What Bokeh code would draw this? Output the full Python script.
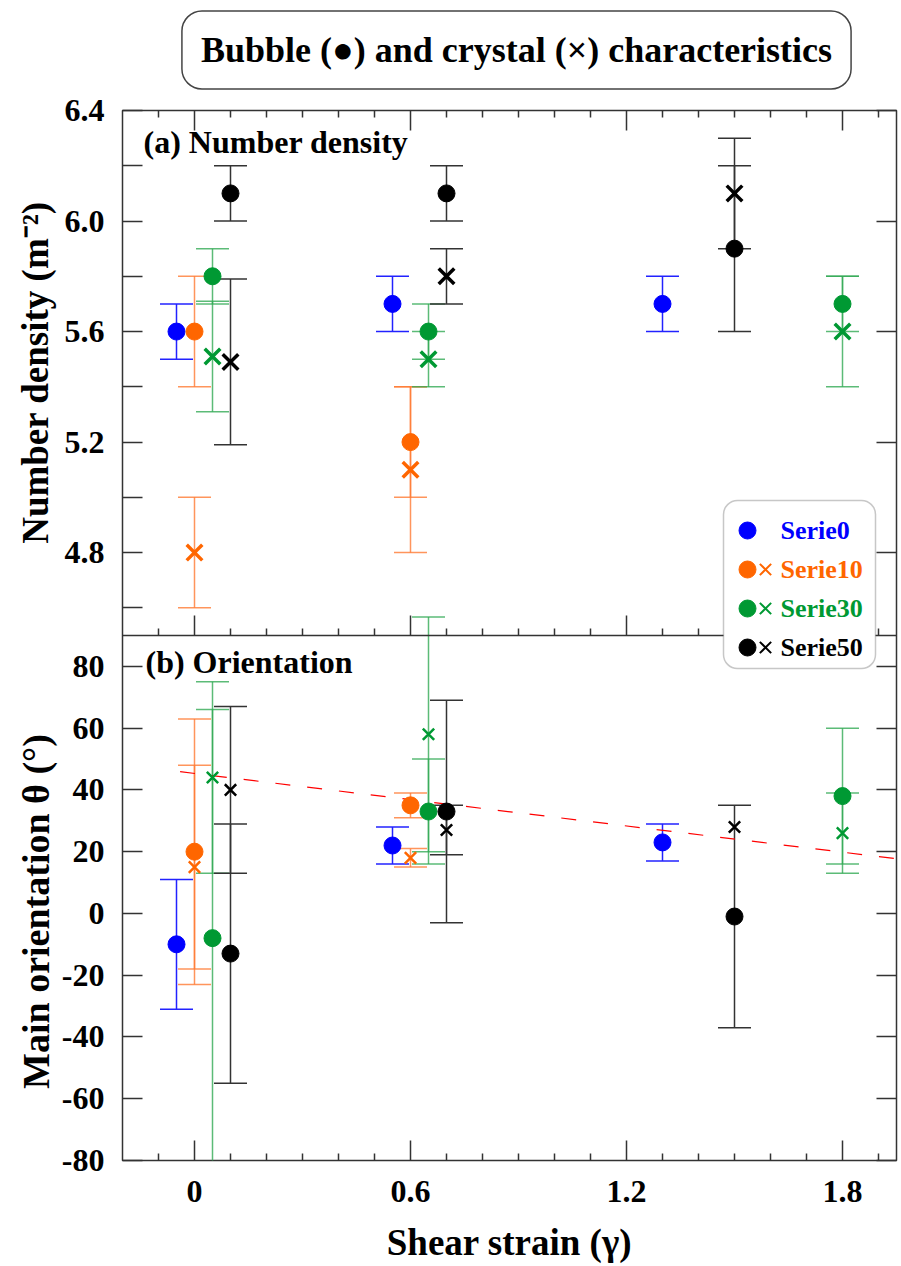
import numpy as np
from bokeh.plotting import figure
from bokeh.layouts import column, row
from bokeh.models import (Range1d, LinearAxis, FixedTicker, CustomJSTickFormatter,
                          Whisker, TeeHead, ColumnDataSource, Label, BoxAnnotation, Span)
from bokeh.embed import file_html
from bokeh.resources import INLINE

# ---------------- data ----------------
series_names = ["Serie0", "Serie10", "Serie30", "Serie50"]
series_colors = ["#0000ff", "#ff6600", "#009933", "#000000"]
errbar_colors = ["#2222ff", "#ff7a33", "#33aa55", "#333333"]

strain_s0 = [-0.05, 0.55, 1.30]
strain_s10 = [0.00, 0.60]
strain_s30 = [0.05, 0.65, 1.80]
strain_s50 = [0.10, 0.70, 1.50]

# (a) number density
dens_bubble_s0 = [5.6, 5.7, 5.7]
dens_bubble_s0_err = [0.1, 0.1, 0.1]
dens_bubble_s10 = [5.6, 5.2]
dens_bubble_s10_err = [0.2, 0.2]
dens_crystal_s10 = [4.8, 5.1]
dens_crystal_s10_err = [0.2, 0.3]
dens_bubble_s30 = [5.8, 5.6, 5.7]
dens_bubble_s30_err = [0.1, 0.1, 0.1]
dens_crystal_s30 = [5.51, 5.5, 5.6]
dens_crystal_s30_err = [0.2, 0.1, 0.2]
dens_bubble_s50 = [6.1, 6.1, 5.9]
dens_bubble_s50_err = [0.1, 0.1, 0.3]
dens_crystal_s50 = [5.49, 5.8, 6.1]
dens_crystal_s50_err = [0.3, 0.1, 0.2]

# (b) orientation
ori_bubble_s0 = [-10, 22, 23]
ori_bubble_s0_err = [21, 6, 6]
ori_bubble_s10 = [20, 35]
ori_bubble_s10_err = [43, 4]
ori_crystal_s10 = [15, 18]
ori_crystal_s10_err = [33, 3]
ori_bubble_s30 = [-8, 33, 38]
ori_bubble_s30_err = [74, 17, 22]
ori_crystal_s30 = [44, 58, 26]
ori_crystal_s30_err = [31, 38, 13]
ori_bubble_s50 = [-13, 33, -1]
ori_bubble_s50_err = [42, 36, 36]
ori_crystal_s50 = [40, 27, 28]
ori_crystal_s50_err = [27, 8, 0]

trend_x = [-0.04, 2.0]
trend_y = [45.9, 17.0]

x_major_ticks = [0, 0.6, 1.2, 1.8]
x_minor_ticks = [-0.1, 0.1, 0.2, 0.3, 0.4, 0.5, 0.7, 0.8, 0.9, 1.0, 1.1,
                 1.3, 1.4, 1.5, 1.6, 1.7, 1.9]
dens_ticks = [4.6, 4.8, 5.0, 5.2, 5.4, 5.6, 5.8, 6.0, 6.2, 6.4]
dens_tick_labels = ["", "4.8", "", "5.2", "", "5.6", "", "6.0", "", "6.4"]
ori_ticks = [-80, -60, -40, -20, 0, 20, 40, 60, 80]
ori_tick_labels = ["-80", "-60", "-40", "-20", "0", "20", "40", "60", "80"]

title_text = "Bubble (\u25cf) and crystal (\u00d7) characteristics"
ylabel_a = "Number density (m\u207b\u00b2)"
ylabel_b = "Main orientation \u03b8 (\u00b0)"
xlabel = "Shear strain (\u03b3)"

# ---------------- layout ----------------
FONT = "Liberation Serif"
TOTAL_W, TOTAL_H = 901, 1266
TITLE_H = 92
YLAB_W = 58
FW, FH = 774, 1050
BL, BT = 64, 18
BR = TOTAL_W - YLAB_W - BL - FW
MAIN_H = TOTAL_H - TITLE_H
BB = MAIN_H - BT - FH
FRAME_BOTTOM_PAGE = TITLE_H + BT + FH   # page y of the frame bottom (frames in a row are aligned)

y_bottom = Range1d(-80, 260)     # panel (b) occupies lower half (-80..90)
y_top = Range1d(2.6, 6.4)        # panel (a) occupies upper half (4.5..6.4)

p = figure(frame_width=FW, frame_height=FH,
           min_border_left=BL, min_border_right=BR,
           min_border_top=BT, min_border_bottom=BB,
           x_range=Range1d(-0.2, -0.2 + FW / 360.0), y_range=y_bottom,
           output_backend="svg", toolbar_location=None)
p.extra_y_ranges = {"top": y_top, "ly": Range1d(0, FH)}
p.extra_x_ranges = {"lx": Range1d(0, FW)}
p.xgrid.visible = False
p.ygrid.visible = False
p.outline_line_color = "#333333"
p.outline_line_width = 1.5
p.background_fill_color = "white"
p.border_fill_color = "white"


def to_bottom(t):
    return y_bottom.start + (t - y_top.start) * (y_bottom.end - y_bottom.start) / (y_top.end - y_top.start)


left_pos = list(ori_ticks) + [min(round(to_bottom(t), 6), y_bottom.end) for t in dens_ticks]
left_lab = list(ori_tick_labels) + list(dens_tick_labels)
right_pos = list(ori_ticks) + [round(to_bottom(t), 6) for t, l in zip(dens_ticks, dens_tick_labels) if l]

ytick_fmt = CustomJSTickFormatter(args=dict(pos=left_pos, labs=left_lab), code="""
for (let i = 0; i < pos.length; i++) { if (Math.abs(pos[i] - tick) < 1e-4) return labs[i]; }
return "";
""")
blank_fmt = CustomJSTickFormatter(code="return '';")
xtick_fmt = CustomJSTickFormatter(code="return tick == 0 ? '0' : tick.toFixed(1);")


def style_axis(ax, major_in=20, minor_in=7):
    ax.axis_line_color = None
    ax.major_tick_in = major_in
    ax.major_tick_out = 0
    ax.minor_tick_in = minor_in
    ax.minor_tick_out = 0
    ax.major_tick_line_color = "#333333"
    ax.major_tick_line_width = 1.5
    ax.minor_tick_line_color = "#333333"
    ax.minor_tick_line_width = 1.5
    ax.major_label_text_font = FONT
    ax.major_label_text_font_style = "bold"
    ax.major_label_text_font_size = "32px"
    ax.major_label_text_color = "black"


# left axis
yax = p.yaxis[0]
yax.ticker = FixedTicker(ticks=left_pos, minor_ticks=[])
yax.formatter = ytick_fmt
style_axis(yax)
yax.major_label_standoff = 18

# bottom axis
xax = p.xaxis[0]
xax.ticker = FixedTicker(ticks=x_major_ticks, minor_ticks=x_minor_ticks)
xax.formatter = xtick_fmt
style_axis(xax)
xax.major_label_standoff = 20
xax.axis_label = xlabel
xax.axis_label_text_font = FONT
xax.axis_label_text_font_style = "bold"
xax.axis_label_text_font_size = "37px"
xax.axis_label_text_color = "black"
xax.axis_label_standoff = 17

# top axis (ticks only)
top_ax = LinearAxis(ticker=FixedTicker(ticks=x_major_ticks, minor_ticks=x_minor_ticks),
                    formatter=blank_fmt)
style_axis(top_ax)
top_ax.major_label_text_font_size = "0px"
top_ax.major_label_standoff = 0
p.add_layout(top_ax, "above")

# right axis (ticks only)
right_ax = LinearAxis(ticker=FixedTicker(ticks=right_pos, minor_ticks=[]), formatter=blank_fmt)
style_axis(right_ax)
right_ax.major_label_text_font_size = "0px"
right_ax.major_label_standoff = 0
p.add_layout(right_ax, "right")

# separator between panels and its ticks (belonging to panel a)
sep = y_top.start + (y_top.end - y_top.start) / 2
p.add_layout(Span(location=sep, dimension="width",
                  line_color="#333333", line_width=1.5, y_range_name="top"))
maj_len = 20 * (y_top.end - y_top.start) / FH
min_len = 7 * (y_top.end - y_top.start) / FH
p.segment(x0=x_major_ticks, x1=x_major_ticks, y0=[sep] * len(x_major_ticks),
          y1=[sep + maj_len] * len(x_major_ticks), y_range_name="top",
          line_color="#333333", line_width=1.5)
p.segment(x0=x_minor_ticks, x1=x_minor_ticks, y0=[sep] * len(x_minor_ticks),
          y1=[sep + min_len] * len(x_minor_ticks), y_range_name="top",
          line_color="#333333", line_width=1.5)


def add_errors(xs, ys, errs, idx, rng):
    keep = [i for i, e in enumerate(errs) if e > 0]
    x = np.array(xs, dtype=float)[keep]
    y = np.array(ys, dtype=float)[keep]
    e = np.array(errs, dtype=float)[keep]
    src = ColumnDataSource(dict(x=x, upper=y + e, lower=y - e))
    c = errbar_colors[idx]
    a = 0.8 if idx in (1, 2) else 1.0
    kw = dict(line_color=c, line_alpha=a, line_width=1.5)
    w = Whisker(base="x", upper="upper", lower="lower", source=src, dimension="height",
                upper_head=TeeHead(size=33, **kw), lower_head=TeeHead(size=33, **kw),
                y_range_name=rng, level="underlay", **kw)
    p.add_layout(w)


def add_bubbles(xs, ys, errs, idx, rng):
    add_errors(xs, ys, errs, idx, rng)
    p.scatter(x=xs, y=ys, marker="circle", size=17, fill_color=series_colors[idx],
              line_color=series_colors[idx], y_range_name=rng)


def add_crystals(xs, ys, errs, idx, rng, size, lw):
    add_errors(xs, ys, errs, idx, rng)
    p.scatter(x=xs, y=ys, marker="x", size=size, line_color=series_colors[idx],
              line_width=lw, y_range_name=rng)


# panel (a)
add_bubbles(strain_s0, dens_bubble_s0, dens_bubble_s0_err, 0, "top")
add_bubbles(strain_s10, dens_bubble_s10, dens_bubble_s10_err, 1, "top")
add_crystals(strain_s10, dens_crystal_s10, dens_crystal_s10_err, 1, "top", 22, 3.5)
add_bubbles(strain_s30, dens_bubble_s30, dens_bubble_s30_err, 2, "top")
add_crystals(strain_s30, dens_crystal_s30, dens_crystal_s30_err, 2, "top", 22, 3.5)
add_bubbles(strain_s50, dens_bubble_s50, dens_bubble_s50_err, 3, "top")
add_crystals(strain_s50, dens_crystal_s50, dens_crystal_s50_err, 3, "top", 22, 3.5)

# panel (b)
p.line(x=trend_x, y=trend_y, line_color="red", line_width=1.2, line_dash="15 17")
add_bubbles(strain_s0, ori_bubble_s0, ori_bubble_s0_err, 0, "default")
add_bubbles(strain_s10, ori_bubble_s10, ori_bubble_s10_err, 1, "default")
add_crystals(strain_s10, ori_crystal_s10, ori_crystal_s10_err, 1, "default", 16, 2.5)
add_bubbles(strain_s30, ori_bubble_s30, ori_bubble_s30_err, 2, "default")
add_crystals(strain_s30, ori_crystal_s30, ori_crystal_s30_err, 2, "default", 16, 2.5)
add_bubbles(strain_s50, ori_bubble_s50, ori_bubble_s50_err, 3, "default")
add_crystals(strain_s50, ori_crystal_s50, ori_crystal_s50_err, 3, "default", 16, 2.5)


# ---------------- texts ----------------
def txt(fig, text, x, y, size, color="black", align="left", baseline="middle", angle=0, **kw):
    lab = Label(x=x, y=y, x_units="screen", y_units="screen", text=text,
                text_font=FONT, text_font_style="bold", text_font_size=size,
                text_color=color, text_align=align, text_baseline=baseline,
                angle=angle, angle_units="deg", level="overlay", **kw)
    fig.add_layout(lab)
    return lab


txt(p, "(a) Number density", 21, 1037, "32px", baseline="top")
txt(p, "(b) Orientation", 23, 517, "32px", baseline="top")

# ---------------- legend ----------------
p.add_layout(BoxAnnotation(left=601, right=753, top=660, bottom=492,
                           left_units="screen", right_units="screen",
                           top_units="screen", bottom_units="screen",
                           fill_color="white", fill_alpha=1.0, line_color="#444444",
                           line_width=1.5, border_radius=14, level="annotation"))
leg_rows = [630, 591, 552, 513]
for i, (name, col) in enumerate(zip(series_names, series_colors)):
    p.scatter(x=[625], y=[leg_rows[i]], marker="circle", size=17, fill_color=col,
              line_color=col, x_range_name="lx", y_range_name="ly", level="overlay")
    if i > 0:
        p.scatter(x=[643], y=[leg_rows[i]], marker="x", size=16, line_color=col,
                  line_width=2, x_range_name="lx", y_range_name="ly", level="overlay")
    txt(p, name, 658, leg_rows[i], "26px", color=col, baseline="middle")


# ---------------- title strip and y-label strip ----------------
def blank_fig(w, h):
    f = figure(width=w, height=h, x_range=Range1d(0, w), y_range=Range1d(0, h),
               min_border=0, x_axis_location=None, y_axis_location=None,
               output_backend="svg", toolbar_location=None)
    f.xgrid.visible = False
    f.ygrid.visible = False
    f.outline_line_color = None
    f.background_fill_color = "white"
    f.border_fill_color = "white"
    return f


tfig = blank_fig(TOTAL_W, TITLE_H)
txt(tfig, title_text, 516, TITLE_H - 49.5, "36px", align="center", baseline="middle",
    padding=19, border_radius=20, border_line_color="#444444", border_line_width=1.5,
    background_fill_color="white")

# the y-label strip's frame is aligned with the main frame, so positions are
# measured from the main frame's bottom edge
yfig = blank_fig(YLAB_W, MAIN_H)
txt(yfig, ylabel_a, 35, FRAME_BOTTOM_PAGE - 372, "37px", align="center", baseline="middle", angle=90)
txt(yfig, ylabel_b, 35, FRAME_BOTTOM_PAGE - 911, "38px", align="center", baseline="middle", angle=90)

layout = column(tfig, row(yfig, p, spacing=0), spacing=0)
open("out.html", "w").write(file_html(layout, INLINE))
